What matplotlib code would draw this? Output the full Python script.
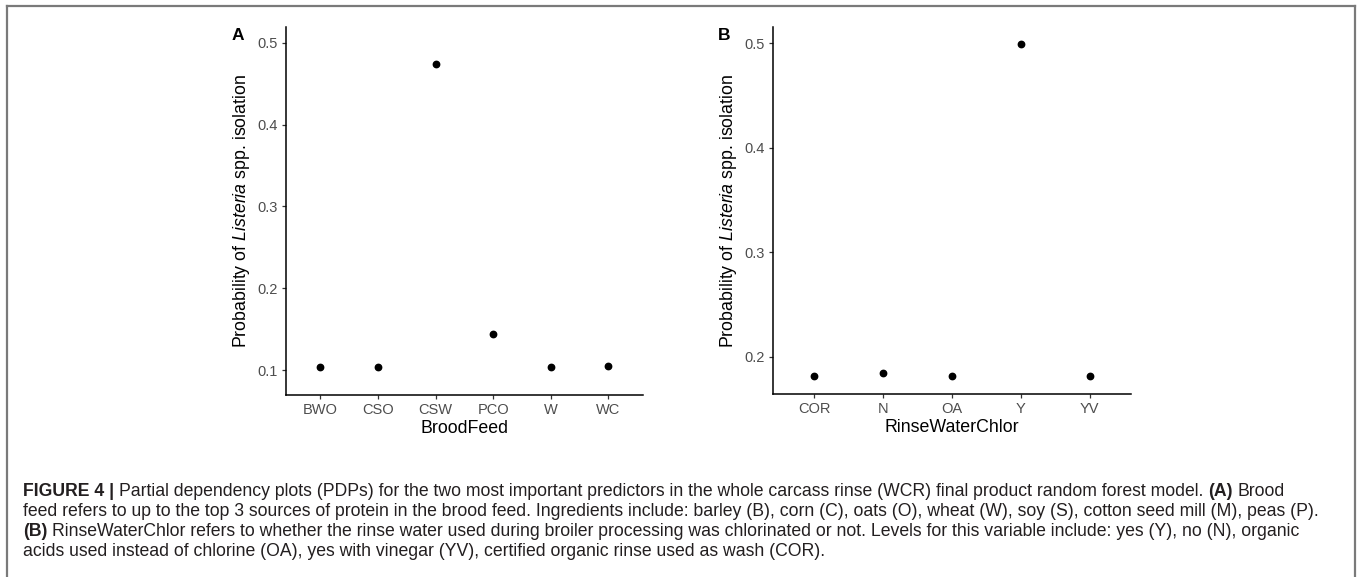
import matplotlib
matplotlib.use("Agg")
import matplotlib.pyplot as plt
from matplotlib.lines import Line2D

# panel A: BroodFeed
brood_levels = ["BWO", "CSO", "CSW", "PCO", "W", "WC"]
brood_prob = [0.104, 0.104, 0.4735, 0.144, 0.104, 0.105]

# panel B: RinseWaterChlor
rinse_levels = ["COR", "N", "OA", "Y", "YV"]
rinse_prob = [0.1817, 0.184, 0.1817, 0.499, 0.1817]

ylab = r"Probability of $\mathit{Listeria}$ spp. isolation"

caption = [
    [("FIGURE 4 |", "bold"),
     ("Partial dependency plots (PDPs) for the two most important predictors in the whole carcass rinse (WCR) final product random forest model.", "normal"),
     ("(A)", "bold"), ("Brood", "normal")],
    [("feed refers to up to the top 3 sources of protein in the brood feed. Ingredients include: barley (B), corn (C), oats (O), wheat (W), soy (S), cotton seed mill (M), peas (P).", "normal")],
    [("(B)", "bold"),
     ("RinseWaterChlor refers to whether the rinse water used during broiler processing was chlorinated or not. Levels for this variable include: yes (Y), no (N), organic", "normal")],
    [("acids used instead of chlorine (OA), yes with vinegar (YV), certified organic rinse used as wash (COR).", "normal")],
]
# right end (px) of the full lines in the reference
caption_ends = [1336, 1326, 1318]

plt.rcParams['font.family'] = ['Liberation Sans', 'DejaVu Sans']
plt.rcParams['mathtext.fontset'] = 'custom'
plt.rcParams['mathtext.rm'] = 'Liberation Sans'
plt.rcParams['mathtext.it'] = 'Liberation Sans:italic'

W, H = 1358, 577
fig = plt.figure(figsize=(W / 100, H / 100), dpi=100)


def style_axes(ax, levels, vals, ylim, yticks, xlabel):
    x = list(range(len(levels)))
    ax.plot(x, vals, "o", color="black", ms=4.6, ls="none")
    ax.set_xlim(-0.6, len(levels) - 1 + 0.6)
    ax.set_ylim(*ylim)
    ax.set_xticks(x)
    ax.set_xticklabels(levels)
    ax.set_yticks(yticks)
    ax.set_yticklabels(["%.1f" % t for t in yticks])
    for s in ["top", "right"]:
        ax.spines[s].set_visible(False)
    for s in ["left", "bottom"]:
        ax.spines[s].set_linewidth(1.1)
        ax.spines[s].set_color("black")
    ax.tick_params(length=3.2, width=0.9, color="#333333", labelcolor="#4d4d4d",
                   labelsize=10.5, pad=2.5)
    ax.set_xlabel(xlabel, fontsize=12.8, color="black", labelpad=2)
    ax.set_ylabel(ylab, fontsize=12.8, color="black", labelpad=4)


axA = fig.add_axes([285.7 / W, 1 - 395 / H, (643 - 285.7) / W, (395 - 26.7) / H])
style_axes(axA, brood_levels, brood_prob, (0.0695, 0.5195), [0.1, 0.2, 0.3, 0.4, 0.5], "BroodFeed")

axB = fig.add_axes([773 / W, 1 - 394.3 / H, (1131 - 773) / W, (394.3 - 27) / H])
style_axes(axB, rinse_levels, rinse_prob, (0.1638, 0.5157), [0.2, 0.3, 0.4, 0.5], "RinseWaterChlor")

fig.text(238 / W, 1 - 35 / H, "A", fontsize=12.5, fontweight="bold", ha="center", va="center")
fig.text(724 / W, 1 - 35 / H, "B", fontsize=12.5, fontweight="bold", ha="center", va="center")

# frame around the figure
fc = "#7a7a7a"
fig.add_artist(Line2D([7 / W, 1355 / W], [1 - 6 / H, 1 - 6 / H], color=fc, lw=1.6))
fig.add_artist(Line2D([7 / W, 7 / W], [1 - 6 / H, 0], color=fc, lw=1.6))
fig.add_artist(Line2D([1355 / W, 1355 / W], [1 - 6 / H, 0], color=fc, lw=1.6))

# caption, sized so the widest line fits
renderer = fig.canvas.get_renderer()
cap_font = ['Liberation Sans', 'DejaVu Sans']


def run_width(txt, weight, size):
    t = fig.text(0, 0, txt, fontsize=size, fontweight=weight, family=cap_font)
    w = t.get_window_extent(renderer).width
    t.remove()
    return w


def line_width(runs, size):
    sp = run_width("a a", "normal", size) - run_width("aa", "normal", size)
    return sum(run_width(t, w, size) for t, w in runs) + sp * (len(runs) - 1)


size0 = 10
cap_size = min(size0 * (end - 23) / line_width(runs, size0)
               for runs, end in zip(caption, caption_ends))
sp = run_width("a a", "normal", cap_size) - run_width("aa", "normal", cap_size)

line_y = [491, 511, 531, 551]
for runs, yy in zip(caption, line_y):
    x = 23
    for txt, weight in runs:
        t = fig.text(x / W, 1 - yy / H, txt, fontsize=cap_size, fontweight=weight,
                     family=cap_font, color="#231f20", va="center", ha="left")
        x += t.get_window_extent(renderer).width + sp

fig.savefig("out.png", dpi=100)
